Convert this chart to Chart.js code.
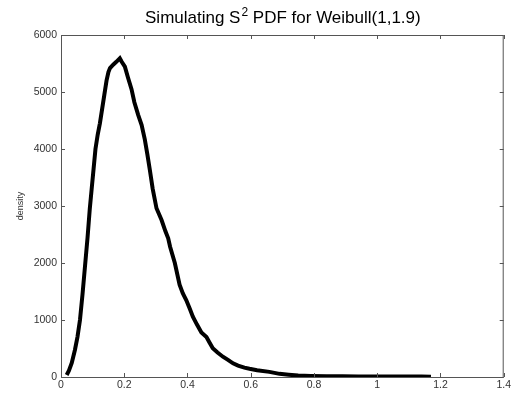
<!DOCTYPE html>
<html>
<head>
<meta charset="utf-8">
<script src="https://cdn.jsdelivr.net/npm/chart.js@4/dist/chart.umd.min.js"></script>
<style>
  html, body { margin: 0; padding: 0; background: #fff; }
  #wrap { width: 513px; height: 394px; }
</style>
</head>
<body>
<div id="wrap"><canvas id="pdfChart"></canvas></div>
<script>
// simulated density of S^2
const sVals = [0.018, 0.025, 0.034, 0.044, 0.052, 0.060, 0.068, 0.076, 0.084, 0.091,
  0.097, 0.103, 0.109, 0.116, 0.123, 0.130, 0.137, 0.144, 0.150, 0.155,
  0.165, 0.175, 0.186, 0.192, 0.202, 0.212, 0.223, 0.232, 0.244, 0.255,
  0.265, 0.273, 0.281, 0.290, 0.302, 0.318, 0.330, 0.339, 0.345, 0.360,
  0.375, 0.385, 0.396, 0.407, 0.417, 0.430, 0.444, 0.460, 0.470, 0.480,
  0.495, 0.512, 0.528, 0.544, 0.560, 0.580, 0.596, 0.620, 0.659, 0.691,
  0.720, 0.750, 0.790, 0.840, 0.890, 0.940, 1.000, 1.050, 1.100, 1.140,
  1.170];
const density = [35, 110, 246, 474, 700, 1000, 1450, 1950, 2450, 2950,
  3300, 3650, 4000, 4250, 4450, 4700, 4950, 5200, 5350, 5420,
  5480, 5530, 5591, 5530, 5444, 5250, 5050, 4820, 4600, 4420,
  4170, 3910, 3632, 3300, 2960, 2754, 2560, 2433, 2286, 2000,
  1620, 1470, 1351, 1200, 1058, 920, 780, 700, 600, 503,
  430, 356, 300, 240, 200, 165, 145, 120, 90, 55,
  40, 25, 18, 14, 12, 10, 10, 9, 10, 8,
  5];

const xTicks = [0, 0.2, 0.4, 0.6, 0.8, 1, 1.2, 1.4];
const yTicks = [0, 1000, 2000, 3000, 4000, 5000, 6000];

const points = sVals.map((s, i) => ({ x: s, y: density[i] }));

// matlab style box with inward ticks + title with superscript
const boxPlugin = {
  id: 'box',
  afterDraw(chart) {
    const { ctx, chartArea: a, scales } = chart;
    ctx.save();
    ctx.strokeStyle = '#555';
    ctx.lineWidth = 1;
    ctx.strokeRect(a.left + 0.5, a.top + 0.5, a.right - a.left - 1, a.bottom - a.top);
    ctx.beginPath();
    xTicks.forEach(v => {
      const px = Math.round(scales.x.getPixelForValue(v)) + 0.5;
      ctx.moveTo(px, a.bottom); ctx.lineTo(px, a.bottom - 4);
      ctx.moveTo(px, a.top); ctx.lineTo(px, a.top + 4);
    });
    yTicks.forEach(v => {
      const py = Math.round(scales.y.getPixelForValue(v)) + 0.5;
      ctx.moveTo(a.left, py); ctx.lineTo(a.left + 4, py);
      ctx.moveTo(a.right, py); ctx.lineTo(a.right - 4, py);
    });
    ctx.stroke();

    const main1 = 'Simulating S', sup = '2', main2 = ' PDF for Weibull(1,1.9)';
    const big = '17px "Liberation Sans", Arial, sans-serif';
    const small = '12px "Liberation Sans", Arial, sans-serif';
    ctx.font = big;
    const w1 = ctx.measureText(main1).width, w3 = ctx.measureText(main2).width;
    ctx.font = small;
    const w2 = ctx.measureText(sup).width;
    let x = (a.left + a.right) / 2 - (w1 + w2 + w3) / 2;
    const base = a.top - 12;
    ctx.fillStyle = '#000';
    ctx.textBaseline = 'alphabetic';
    ctx.font = big; ctx.fillText(main1, x, base); x += w1;
    ctx.font = small; ctx.fillText(sup, x + 1, base - 7); x += w2 + 1;
    ctx.font = big; ctx.fillText(main2, x, base);
    ctx.restore();
  }
};

new Chart(document.getElementById('pdfChart'), {
  type: 'line',
  data: {
    datasets: [{
      data: points,
      borderColor: '#000',
      borderWidth: 4,
      pointRadius: 0,
      tension: 0,
      fill: false
    }]
  },
  options: {
    responsive: true,
    maintainAspectRatio: false,
    animation: false,
    layout: { padding: { top: 35, right: 8, left: 0, bottom: 0 } },
    plugins: { legend: { display: false }, tooltip: { enabled: false } },
    scales: {
      x: {
        type: 'linear',
        min: 0, max: 1.4,
        afterBuildTicks: s => { s.ticks = xTicks.map(v => ({ value: v })); },
        afterFit: s => { s.height = 17; },
        grid: { display: false, drawTicks: false },
        border: { display: false },
        ticks: {
          padding: 2,
          color: '#333',
          font: { family: '"Liberation Sans", Arial, sans-serif', size: 10.5 },
          callback: v => String(v),
          maxRotation: 0
        }
      },
      y: {
        min: 0, max: 6000,
        afterBuildTicks: s => { s.ticks = yTicks.map(v => ({ value: v })); },
        afterFit: s => { s.width = 61; },
        grid: { display: false, drawTicks: false },
        border: { display: false },
        title: {
          display: true,
          text: 'density',
          color: '#333',
          font: { family: '"Liberation Sans", Arial, sans-serif', size: 9 },
          padding: { top: 15, bottom: 0 }
        },
        ticks: {
          padding: 4,
          color: '#333',
          font: { family: '"Liberation Sans", Arial, sans-serif', size: 10.5 },
          callback: v => String(v)
        }
      }
    }
  },
  plugins: [boxPlugin]
});
</script>
</body>
</html>
